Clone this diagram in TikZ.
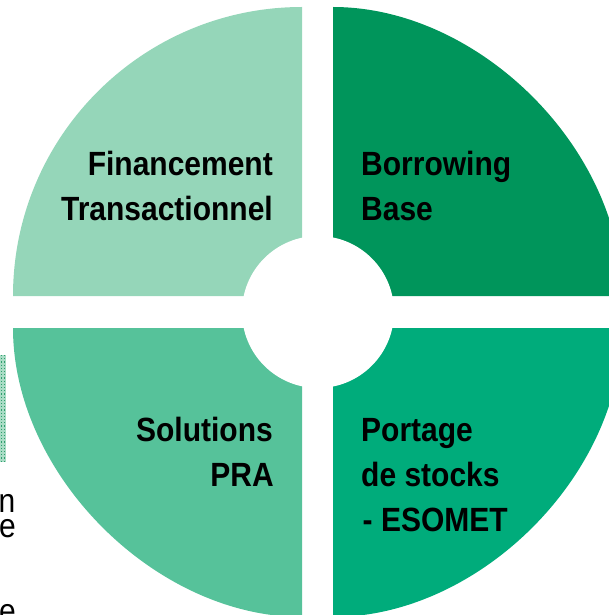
\documentclass[tikz,border=0pt]{standalone}
\usepackage{fontspec}
\setmainfont{Liberation Sans}
\usepackage{graphicx}
\definecolor{qtl}{HTML}{95D6B9}
\definecolor{qtr}{HTML}{00955B}
\definecolor{qbr}{HTML}{00AC7B}
\definecolor{qbl}{HTML}{56C29A}
\definecolor{barbg}{HTML}{A9DCC5}
\definecolor{bardot}{HTML}{2E9E6E}
\newcommand\stretchtxt[1]{\scalebox{1}[1.12]{#1}}
\begin{document}
\begin{tikzpicture}[x=1pt,y=-1pt,
  lbl/.style={inner sep=0pt, font=\bfseries\fontsize{30}{36}\selectfont, text=black},
  stray/.style={inner sep=0pt, font=\fontsize{30}{25}\selectfont, text=black}]
\useasboundingbox (0,0) rectangle (609,615);
\begin{scope}
\clip (0,0) rectangle (609,615);
% quadrants
\fill[qtl] (302,296) -- (13,296) .. controls (13,136.4) and (142.4,7) .. (302,7) -- cycle;
\fill[qtr] (333,296) -- (333,7) .. controls (479.5,7) and (622,149.5) .. (622,296) -- cycle;
\fill[qbr] (333,328) -- (622,328) .. controls (622,474.5) and (479.5,617) .. (333,617) -- cycle;
\fill[qbl] (302,328) -- (302,617) .. controls (155.5,617) and (13,474.5) .. (13,328) -- cycle;
% central hole
\fill[white] (318,312) circle[radius=76];
% stray fragments at left
\fill[barbg] (0,355) rectangle (6,462);
\draw[bardot, line width=1.2pt, dotted] (1.5,355) -- (1.5,462);
\draw[bardot, line width=1.2pt, dotted] (4.5,355) -- (4.5,462);
\node[stray, anchor=base west] (s1) at (-1.5,512) {\stretchtxt{n}};
\node[stray, anchor=base west] (s2) at (-1,537) {\stretchtxt{e}};
\node[stray, anchor=base west] (s3) at (-1,622) {\stretchtxt{e}};
\end{scope}
% labels
\node[lbl, anchor=base east] (tl1) at (273,175) {\stretchtxt{Financement}};
\node[lbl, anchor=base east] (tl2) at (273,220) {\stretchtxt{Transactionnel}};
\node[lbl, anchor=base west] (tr1) at (361,175) {\stretchtxt{Borrowing}};
\node[lbl, anchor=base west] (tr2) at (361,220) {\stretchtxt{Base}};
\node[lbl, anchor=base west] (br1) at (361,441.5) {\stretchtxt{Portage}};
\node[lbl, anchor=base west] (br2) at (361,486.5) {\stretchtxt{de stocks}};
\node[lbl, anchor=base west] (br3) at (362.5,531.5) {\stretchtxt{- ESOMET}};
\node[lbl, anchor=base east] (bl1) at (273,441) {\stretchtxt{Solutions}};
\node[lbl, anchor=base east] (bl2) at (274,486) {\stretchtxt{PRA}};
\end{tikzpicture}
\end{document}
